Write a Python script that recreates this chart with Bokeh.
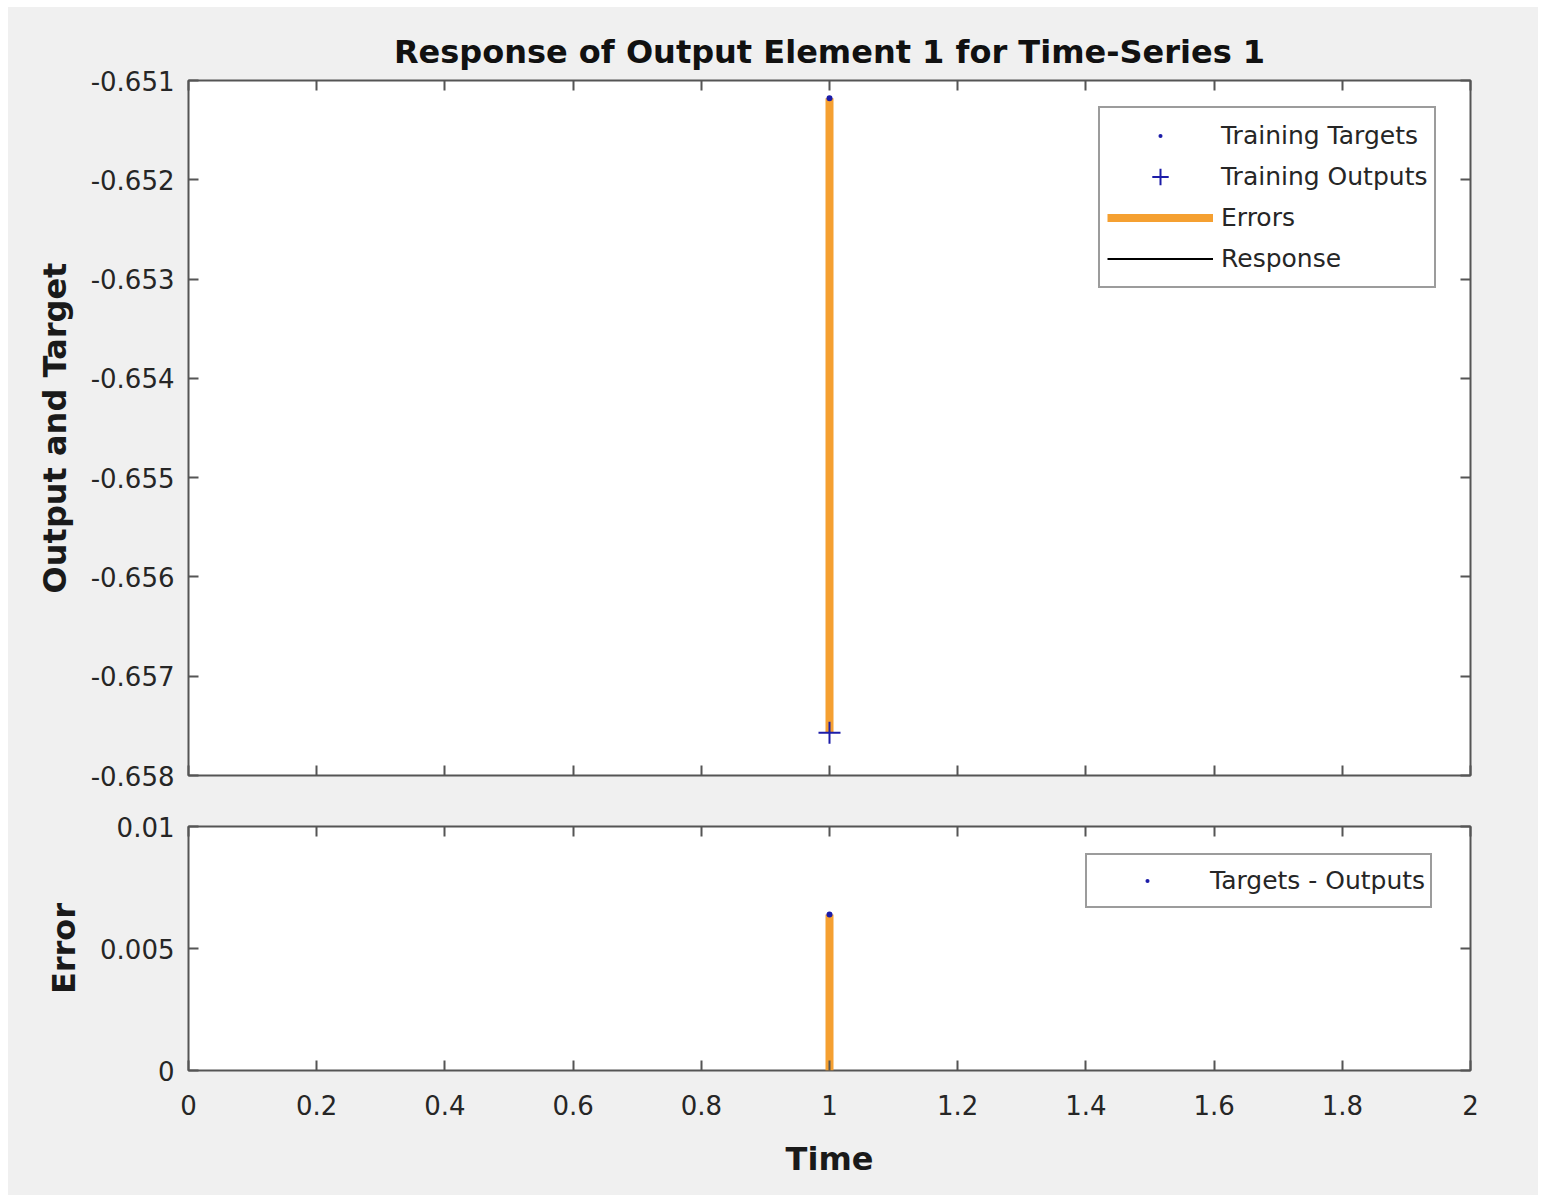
from bokeh.plotting import figure
from bokeh.layouts import column
from bokeh.models import Range1d, LinearAxis, FixedTicker, Legend, LegendItem
from bokeh.embed import file_html
from bokeh.resources import INLINE

# ---------------- data ----------------
time = [1.0]
training_targets = [-0.65118]
training_outputs = [-0.65757]
response = [-0.65757]
errors = [0.00639]
error_base = [0.0]

x_ticks = [0, 0.2, 0.4, 0.6, 0.8, 1.0, 1.2, 1.4, 1.6, 1.8, 2.0]
x_tick_labels = ["0", "0.2", "0.4", "0.6", "0.8", "1", "1.2", "1.4", "1.6", "1.8", "2"]
y_top_ticks = [-0.658, -0.657, -0.656, -0.655, -0.654, -0.653, -0.652, -0.651]
y_top_labels = ["-0.658", "-0.657", "-0.656", "-0.655", "-0.654", "-0.653", "-0.652", "-0.651"]
y_bot_ticks = [0, 0.005, 0.01]
y_bot_labels = ["0", "0.005", "0.01"]

# ---------------- styles ----------------
BG = "#f0f0f0"
FRAME = "#555555"
TXT = "#262626"
ORANGE = "#f5a031"
BLUE = "#1c1ca8"
TICK_FONT = "26px"
LABEL_FONT = "32px"
FONT = "DejaVu Sans"
W = 1530


def style_axis(ax, ticks, labels, show_labels=True):
    ax.ticker = FixedTicker(ticks=ticks)
    ax.major_tick_in = 10
    ax.major_tick_out = 0
    ax.minor_tick_line_color = None
    ax.major_tick_line_color = FRAME
    ax.major_tick_line_width = 2
    ax.axis_line_color = None
    ax.major_label_text_font = FONT
    if show_labels:
        ax.major_label_overrides = {t: l for t, l in zip(ticks, labels)}
        ax.major_label_text_font_size = TICK_FONT
        ax.major_label_text_color = TXT
    else:
        ax.major_label_text_font_size = "1px"
        ax.major_label_text_color = None
        ax.major_label_standoff = 0
    ax.axis_label_text_font = FONT
    ax.axis_label_text_font_style = "bold"
    ax.axis_label_text_font_size = LABEL_FONT
    ax.axis_label_text_color = "#1a1a1a"


def make_fig(height, y0, y1, border_top, border_bottom):
    p = figure(width=W, height=height, x_range=Range1d(0, 2), y_range=Range1d(y0, y1),
               output_backend="svg", toolbar_location=None,
               min_border_left=180, min_border_right=68,
               min_border_top=border_top, min_border_bottom=border_bottom)
    p.background_fill_color = "white"
    p.border_fill_color = BG
    p.outline_line_color = FRAME
    p.outline_line_width = 2
    p.xgrid.visible = False
    p.ygrid.visible = False
    return p


def style_legend(lg, glyph_width):
    lg.label_text_font = FONT
    lg.label_text_font_size = "25px"
    lg.label_text_color = TXT
    lg.glyph_width = glyph_width
    lg.glyph_height = 41
    lg.label_height = 41
    lg.label_standoff = 8
    lg.spacing = 0
    lg.padding = 6
    lg.margin = 0
    lg.border_line_color = "#3a3a3a"
    lg.border_line_width = 2
    lg.background_fill_color = "white"
    lg.background_fill_alpha = 1.0


# ---------------- top panel ----------------
p1 = make_fig(793, -0.658, -0.651, 73, 25)
p1.title.text = "Response of Output Element 1 for Time-Series 1"
p1.title.align = "center"
p1.title.text_font = FONT
p1.title.text_font_size = LABEL_FONT
p1.title.text_font_style = "bold"
p1.title.text_color = "#111111"
p1.title.standoff = 19

style_axis(p1.xaxis[0], x_ticks, x_tick_labels, show_labels=False)
style_axis(p1.yaxis[0], y_top_ticks, y_top_labels)
p1.yaxis[0].axis_label = "Output and Target"
p1.yaxis[0].major_label_standoff = 14
p1.yaxis[0].axis_label_standoff = 14
ax_top = LinearAxis()
style_axis(ax_top, x_ticks, x_tick_labels, show_labels=False)
p1.add_layout(ax_top, "above")
ax_right = LinearAxis()
style_axis(ax_right, y_top_ticks, y_top_labels, show_labels=False)
p1.add_layout(ax_right, "right")

r_err = p1.segment(x0=time, y0=training_outputs, x1=time, y1=training_targets,
                   line_color=ORANGE, line_width=8)
r_resp = p1.line(time, response, line_color="black", line_width=2)
r_out = p1.scatter(time, training_outputs, marker="cross", size=22,
                   line_color=BLUE, line_width=2)
r_tgt = p1.scatter(time, training_targets, marker="dot", size=24,
                   line_color=BLUE, fill_color=BLUE)

leg1 = Legend(items=[
    LegendItem(label="Training Targets", renderers=[r_tgt]),
    LegendItem(label="Training Outputs", renderers=[r_out]),
    LegendItem(label="Errors", renderers=[r_err]),
    LegendItem(label="Response", renderers=[r_resp]),
], location=(910, 487))
style_legend(leg1, 106)
leg1.padding = 7
p1.add_layout(leg1)

# ---------------- bottom panel ----------------
p2 = make_fig(395, 0, 0.01, 26, 125)
style_axis(p2.xaxis[0], x_ticks, x_tick_labels)
p2.xaxis[0].axis_label = "Time"
p2.xaxis[0].major_label_standoff = 24
p2.xaxis[0].axis_label_standoff = 22
style_axis(p2.yaxis[0], y_bot_ticks, y_bot_labels)
p2.yaxis[0].axis_label = "Error"
p2.yaxis[0].major_label_standoff = 14
p2.yaxis[0].axis_label_standoff = 14
ax_top2 = LinearAxis()
style_axis(ax_top2, x_ticks, x_tick_labels, show_labels=False)
p2.add_layout(ax_top2, "above")
ax_right2 = LinearAxis()
style_axis(ax_right2, y_bot_ticks, y_bot_labels, show_labels=False)
p2.add_layout(ax_right2, "right")

p2.segment(x0=time, y0=error_base, x1=time, y1=errors, line_color=ORANGE, line_width=8)
r_e = p2.scatter(time, errors, marker="dot", size=24, line_color=BLUE, fill_color=BLUE)

leg2 = Legend(items=[LegendItem(label="Targets - Outputs", renderers=[r_e])],
              location=(897, 162))
style_legend(leg2, 110)
leg2.padding = 5
p2.add_layout(leg2)

layout = column(p1, p2, spacing=0, margin=(7, 0, 0, 8))
layout.styles = {"background-color": BG}
open("out.html", "w").write(file_html(layout, INLINE))
